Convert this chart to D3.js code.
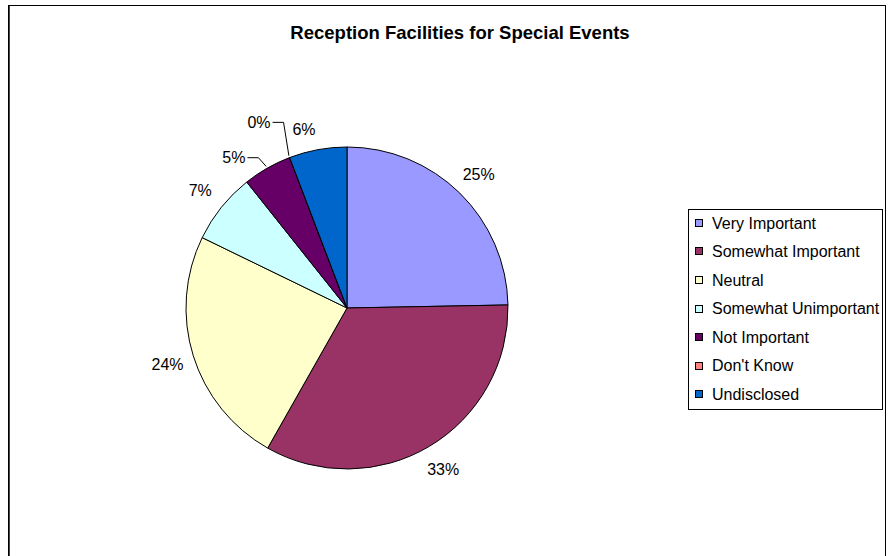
<!DOCTYPE html>
<html>
<head>
<meta charset="utf-8">
<script src="https://cdn.jsdelivr.net/npm/d3@7"></script>
<style>
  html, body { margin: 0; padding: 0; background: #fff; }
  svg { display: block; }
  text { font-family: "Liberation Sans", Arial, sans-serif; fill: #000; }
</style>
</head>
<body>
<svg id="chart" width="891" height="556"></svg>
<script>
// ---- data ----
const categories = ["Very Important", "Somewhat Important", "Neutral", "Somewhat Unimportant", "Not Important", "Don't Know", "Undisclosed"];
const values = [24.7, 33.5, 24.0, 7.1, 4.9, 0.0, 5.8];
const labels = ["25%", "33%", "24%", "7%", "5%", "0%", "6%"];
const colors = ["#9999FF", "#993366", "#FFFFCC", "#CCFFFF", "#660066", "#FF8080", "#0066CC"];
const title = "Reception Facilities for Special Events";

// ---- layout ----
const W = 891, H = 556;
const cx = 347, cy = 308, R = 161;
const labelR = 188;
// label nudges (px) for labels Excel moved away from collisions; leader lines drawn for these
const labelNudge = { "Not Important": [-20, 13, true], "Don't Know": [-21, -10, true], "Undisclosed": [-9, 6, false] };

const svg = d3.select("#chart");

// outer frame
svg.append("rect").attr("x", 8.5).attr("y", 5.5).attr("width", 877).attr("height", 700)
  .attr("fill", "#fff").attr("stroke", "#000").attr("stroke-width", 1);
svg.append("line").attr("x1", 9.5).attr("x2", 9.5).attr("y1", 6).attr("y2", H)
  .attr("stroke", "#444").attr("stroke-width", 1);

// title
svg.append("text").attr("x", 460).attr("y", 38.5).attr("text-anchor", "middle")
  .style("font-size", "18.5px").style("font-weight", "bold").text(title);

const data = categories.map((c, i) => ({ name: c, value: values[i], label: labels[i], color: colors[i] }));

const pie = d3.pie().value(d => d.value).sort(null);
const arcs = pie(data);
const arc = d3.arc().innerRadius(0).outerRadius(R);

const g = svg.append("g").attr("transform", `translate(${cx},${cy})`);

g.selectAll("path.slice").data(arcs).enter().append("path")
  .attr("class", "slice")
  .attr("d", arc)
  .attr("fill", d => d.data.color)
  .attr("stroke", "#000").attr("stroke-width", 1).attr("stroke-linejoin", "round");

// labels
const fs = 16;
arcs.forEach(d => {
  const a = (d.startAngle + d.endAngle) / 2;
  let x = Math.sin(a) * labelR, y = -Math.cos(a) * labelR;
  const nudge = labelNudge[d.data.name];
  if (nudge) { x += nudge[0]; y += nudge[1]; }
  const t = g.append("text").attr("x", x).attr("y", y + fs * 0.358)
    .attr("text-anchor", "middle").style("font-size", fs + "px").text(d.data.label);
  if (nudge && nudge[2]) {
    const w = t.node().getComputedTextLength();
    const x0 = x + w / 2 + 2, x1 = x0 + 11;
    const px = Math.sin(a) * (R + 2), py = -Math.cos(a) * (R + 2);
    g.append("polyline")
      .attr("points", `${x0},${y} ${x1},${y} ${px},${py}`)
      .attr("fill", "none").attr("stroke", "#000").attr("stroke-width", 1);
  }
});

// legend
const lx = 688.5, ly = 209.5, lw = 194, lh = 200;
svg.append("rect").attr("x", lx).attr("y", ly).attr("width", lw).attr("height", lh)
  .attr("fill", "#fff").attr("stroke", "#000").attr("stroke-width", 1);
const rowY = d3.scaleBand().domain(categories).range([ly, ly + lh]).paddingOuter(0);
const lg = svg.append("g");
categories.forEach((c, i) => {
  const yc = rowY(c) + rowY.bandwidth() / 2 - 1;
  lg.append("rect").attr("x", 695.5).attr("y", Math.round(yc - 4) + 0.5).attr("width", 7).attr("height", 7)
    .attr("fill", colors[i]).attr("stroke", "#000").attr("stroke-width", 1);
  lg.append("text").attr("x", 712).attr("y", yc + fs * 0.358).style("font-size", fs + "px").text(c);
});
</script>
</body>
</html>
